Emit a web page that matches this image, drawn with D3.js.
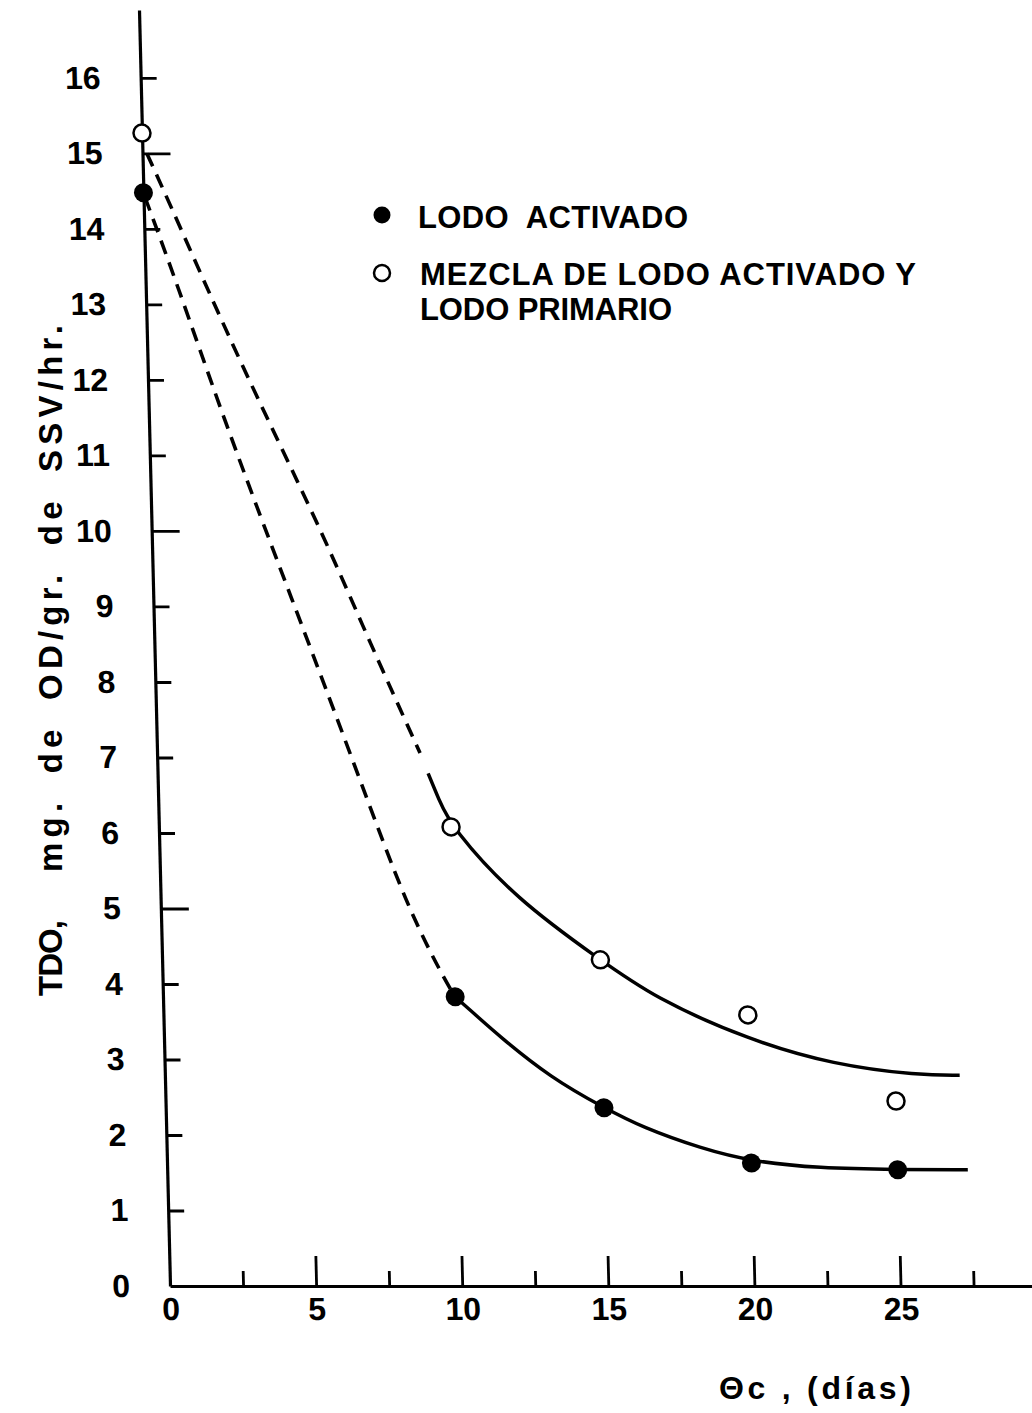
<!DOCTYPE html>
<html>
<head>
<meta charset="utf-8">
<script src="https://cdn.jsdelivr.net/npm/d3@7"></script>
<style>
  body { margin: 0; background: #fff; }
  text { font-family: "Liberation Sans", Arial, sans-serif; font-weight: bold; fill: #000; }
</style>
</head>
<body>
<div id="chart"></div>
<script>
// axis ticks
const xMajor = [0, 5, 10, 15, 20, 25];
const xMinor = [2.5, 7.5, 12.5, 17.5, 22.5, 27.5];
const yTicks = [0, 1, 2, 3, 4, 5, 6, 7, 8, 9, 10, 11, 12, 13, 14, 15, 16];

// measured points (θc in days, TDO)
const activadoX = [0, 10, 15, 20, 25];
const activadoY = [14.48, 3.83, 2.36, 1.63, 1.54];
const mezclaX = [0, 10, 15, 20, 25];
const mezclaY = [15.27, 6.08, 4.32, 3.59, 2.45];

// hand drawn curves
const activadoDash = [[0.05, 14.42], [1.07, 13.28], [2.54, 11.51], [4.14, 9.75], [5.33, 8.46],
                      [6.93, 6.7], [8.43, 5.02], [9.61, 4.09], [10, 3.83]];
const activadoFit = [[10, 3.83], [10.6, 3.62], [11.5, 3.3], [13.2, 2.76], [15, 2.36], [16.3, 2.1], [18.3, 1.82],
                     [20, 1.65], [22.3, 1.56], [25, 1.54], [27.4, 1.54]];
const mezclaDash = [[0.15, 15.0], [1.13, 14.12], [3.16, 12.23], [5.77, 10.05], [7.29, 8.6], [9.0, 7.06]];
const mezclaFit = [[9.26, 6.79], [9.6, 6.45], [10, 6.08], [12.2, 5.11], [15, 4.32], [16.8, 3.82], [20, 3.26],
                   [22.9, 2.93], [25.8, 2.79], [27.2, 2.79]];

const legendLabels = ["LODO  ACTIVADO", "MEZCLA DE LODO ACTIVADO Y", "LODO PRIMARIO"];

const width = 1032, height = 1413;

const svg = d3.select("#chart")
    .append("svg")
    .attr("width", width)
    .attr("height", height);

// Scales
const x = d3.scaleLinear().domain([0, 29.5]).range([170, 1032]);
const y = d3.scaleLinear().domain([0, 16.9]).range([1286, 10]);

// the scanned figure leans a little, so the plot is skewed around the x axis
const y0 = y(0);
const skew = Math.atan(0.0243) * 180 / Math.PI;
const plot = svg.append("g")
    .attr("transform", `translate(0,${y0}) skewX(${skew}) translate(0,${-y0})`);

// y axis, ticks pointing in
const yAxis = plot.append("g")
    .attr("transform", `translate(${x(0)},0)`)
    .call(d3.axisLeft(y)
        .tickValues(yTicks)
        .tickSizeInner(-16)
        .tickSizeOuter(0)
        .tickPadding(40));
yAxis.attr("font-size", 32);
yAxis.select(".domain").attr("stroke-width", 3.2);
yAxis.selectAll(".tick line")
    .attr("stroke-width", 2.8)
    .attr("x2", d => d === 0 ? 0 : (d % 5 === 0 ? 28 : 16));

// x axis
const xAxis = plot.append("g")
    .attr("transform", `translate(0,${y0})`)
    .call(d3.axisBottom(x)
        .tickValues(xMajor.concat(xMinor))
        .tickSizeInner(-30)
        .tickSizeOuter(0)
        .tickPadding(11)
        .tickFormat(d => d % 5 === 0 ? d : ""));
xAxis.attr("font-size", 32);
xAxis.select(".domain").attr("stroke-width", 3.2);
xAxis.selectAll(".tick line")
    .attr("stroke-width", 2.8)
    .attr("y2", d => d === 0 ? 0 : (d % 5 === 0 ? -30 : -15));

// curves
const line = d3.line()
    .x(d => x(d[0]))
    .y(d => y(d[1]))
    .curve(d3.curveBasis);

plot.append("path").datum(activadoDash)
    .attr("fill", "none").attr("stroke", "#000")
    .attr("stroke-width", 3.6).attr("stroke-dasharray", "14,9")
    .attr("d", line);
plot.append("path").datum(mezclaDash)
    .attr("fill", "none").attr("stroke", "#000")
    .attr("stroke-width", 3.6).attr("stroke-dasharray", "14,9")
    .attr("d", line);
plot.append("path").datum(activadoFit)
    .attr("fill", "none").attr("stroke", "#000")
    .attr("stroke-width", 3.5)
    .attr("d", line);
plot.append("path").datum(mezclaFit)
    .attr("fill", "none").attr("stroke", "#000")
    .attr("stroke-width", 3.5)
    .attr("d", line);

// points
plot.append("g").selectAll("circle")
    .data(activadoX.map((v, i) => [v, activadoY[i]]))
    .enter()
    .append("circle")
    .attr("cx", d => x(d[0]))
    .attr("cy", d => y(d[1]))
    .attr("r", 9.5)
    .attr("fill", "#000");

plot.append("g").selectAll("circle")
    .data(mezclaX.map((v, i) => [v, mezclaY[i]]))
    .enter()
    .append("circle")
    .attr("cx", d => x(d[0]))
    .attr("cy", d => y(d[1]))
    .attr("r", 8.5)
    .attr("fill", "#fff")
    .attr("stroke", "#000")
    .attr("stroke-width", 2.5);

// legend
const legend = svg.append("g");
legend.append("circle").attr("cx", 382).attr("cy", 215).attr("r", 8.5).attr("fill", "#000");
legend.append("circle").attr("cx", 382).attr("cy", 273).attr("r", 8)
    .attr("fill", "#fff").attr("stroke", "#000").attr("stroke-width", 2.5);

const legendPos = [[418, 228, 270], [420, 285, 496], [420, 320, 252]];
legend.selectAll("text")
    .data(legendLabels)
    .enter()
    .append("text")
    .attr("x", (d, i) => legendPos[i][0])
    .attr("y", (d, i) => legendPos[i][1])
    .attr("textLength", (d, i) => legendPos[i][2])
    .attr("lengthAdjust", "spacing")
    .attr("font-size", 31)
    .style("white-space", "pre")
    .text(d => d);

// axis titles
svg.append("text")
    .attr("transform", "translate(62,996) rotate(-90)")
    .attr("font-size", 33)
    .attr("textLength", 76)
    .attr("lengthAdjust", "spacing")
    .text("TDO,");

svg.append("text")
    .attr("transform", "translate(62,872) rotate(-90)")
    .attr("font-size", 33)
    .attr("textLength", 547)
    .attr("lengthAdjust", "spacing")
    .style("word-spacing", "10px")
    .text("mg. de OD/gr. de SSV/hr.");

svg.append("text")
    .attr("x", 719)
    .attr("y", 1399)
    .attr("font-size", 32)
    .attr("textLength", 192)
    .attr("lengthAdjust", "spacing")
    .text("Θc , (días)");
</script>
</body>
</html>
